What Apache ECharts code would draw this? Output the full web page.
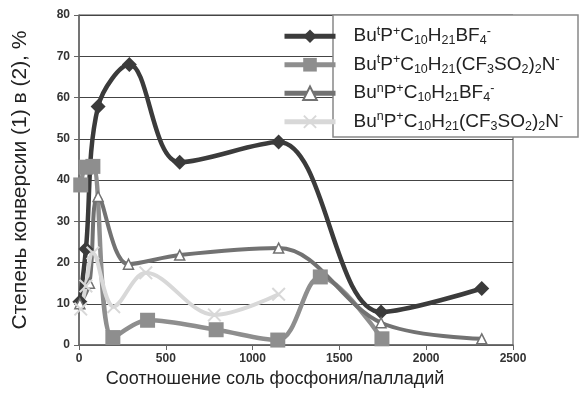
<!DOCTYPE html>
<html>
<head>
<meta charset="utf-8">
<script src="https://cdn.jsdelivr.net/npm/echarts@6/dist/echarts.min.js"></script>
<style>
  html, body { margin: 0; padding: 0; background: #fff; }
  #chart { width: 580px; height: 393px; }
</style>
</head>
<body>
<div id="chart"></div>
<script>
// data: [ratio, conversion %]
const seriesNames = ['s1', 's2', 's3', 's4']
const butBF4 = [[5, 10.5], [40, 23.3], [110, 57.8], [290, 68], [580, 44.3], [1150, 49.2], [1740, 8], [2320, 13.7]]
const butNTf2 = [[10, 38.8], [40, 43.1], [80, 43.3], [195, 1.8], [395, 6], [790, 3.7], [1145, 1.2], [1390, 16.5], [1745, 1.5]]
const bunBF4 = [[5, 10], [60, 15], [110, 36], [285, 19.6], [580, 21.8], [1150, 23.5], [1740, 5.4], [2320, 1.5]]
const bunNTf2 = [[10, 8.7], [40, 14.3], [80, 22.3], [200, 9.3], [385, 17.5], [780, 7.3], [1150, 12.3]]

// legend labels (rich text)
const legendText = {
  s1: 'Bu{sup|t}P{sup|+}C{sub|10}H{sub|21}BF{sub|4}{sup|-}',
  s2: 'Bu{sup|t}P{sup|+}C{sub|10}H{sub|21}(CF{sub|3}SO{sub|2}){sub|2}N{sup|-}',
  s3: 'Bu{sup|n}P{sup|+}C{sub|10}H{sub|21}BF{sub|4}{sup|-}',
  s4: 'Bu{sup|n}P{sup|+}C{sub|10}H{sub|21}(CF{sub|3}SO{sub|2}){sub|2}N{sup|-}'
}

const crossPath = 'path://M0,1 L1,0 L5,4 L9,0 L10,1 L6,5 L10,9 L9,10 L5,6 L1,10 L0,9 L4,5 Z'

const chart = echarts.init(document.getElementById('chart'))

const plain = function (v) { return String(v) }

const option = {
  animation: false,
  textStyle: { fontFamily: 'Liberation Sans, Arial, sans-serif' },
  grid: { left: 79, right: 67, top: 15, bottom: 46, show: true, borderColor: '#444', borderWidth: 1 },
  graphic: [{
    type: 'rect',
    z: 3,
    shape: { x: 333, y: 15, width: 245, height: 122 },
    style: { fill: '#fff', stroke: '#888', lineWidth: 1.5 }
  }],
  legend: {
    z: 10,
    orient: 'vertical',
    left: 277,
    top: 20,
    itemWidth: 51,
    itemHeight: 17,
    itemGap: 6,
    data: seriesNames,
    lineStyle: { width: 5 },
    formatter: function (name) {
      return '{gap| }' + legendText[name]
    },
    textStyle: {
      color: '#222',
      fontSize: 19,
      lineHeight: 22.5,
      rich: {
        gap: { width: 13 },
        sup: { fontSize: 12.5, lineHeight: 12, verticalAlign: 'top', color: '#222' },
        sub: { fontSize: 12.5, lineHeight: 12, verticalAlign: 'bottom', color: '#222' }
      }
    }
  },
  xAxis: {
    type: 'value',
    min: 0,
    max: 2500,
    interval: 500,
    name: 'Соотношение соль фосфония/палладий',
    nameLocation: 'middle',
    nameGap: 25,
    nameTextStyle: { fontSize: 18, color: '#222', padding: [0, 42, 0, 0] },
    axisLine: { show: true, lineStyle: { color: '#666', width: 1.5 } },
    axisTick: { show: true, length: 5, lineStyle: { color: '#666' } },
    axisLabel: { fontSize: 12, fontWeight: 'bold', color: '#333', margin: 8, formatter: plain },
    splitLine: { show: false }
  },
  yAxis: {
    type: 'value',
    min: 0,
    max: 80,
    interval: 10,
    name: 'Степень конверсии (1) в (2), %',
    nameLocation: 'middle',
    nameGap: 48,
    nameTextStyle: { fontSize: 21, color: '#222' },
    axisLine: { show: true, lineStyle: { color: '#666', width: 1.5 } },
    axisTick: { show: true, length: 5, lineStyle: { color: '#666' } },
    axisLabel: { fontSize: 12, fontWeight: 'bold', color: '#333', margin: 9, formatter: plain },
    splitLine: { show: true, lineStyle: { color: '#444', width: 1 } }
  },
  series: [
    {
      name: 's1',
      type: 'line',
      smooth: 0.35,
      data: butBF4,
      symbol: 'diamond',
      symbolSize: 15,
      lineStyle: { color: '#3b3b3b', width: 4.5 },
      itemStyle: { color: '#3b3b3b' },
      z: 2
    },
    {
      name: 's2',
      type: 'line',
      smooth: 0.35,
      data: butNTf2,
      symbol: 'rect',
      symbolSize: 15,
      lineStyle: { color: '#8e8e8e', width: 4.5 },
      itemStyle: { color: '#8e8e8e' },
      z: 2
    },
    {
      name: 's3',
      type: 'line',
      smooth: 0.35,
      data: bunBF4,
      symbol: 'triangle',
      symbolSize: 10,
      lineStyle: { color: '#727272', width: 4 },
      itemStyle: { color: '#fff', borderColor: '#727272', borderWidth: 1.5 },
      z: 2
    },
    {
      name: 's4',
      type: 'line',
      smooth: 0.35,
      data: bunNTf2,
      symbol: crossPath,
      symbolSize: 14,
      lineStyle: { color: '#d8d8d8', width: 4 },
      itemStyle: { color: '#d8d8d8' },
      z: 2
    }
  ]
}

chart.setOption(option)
window.addEventListener('resize', function () {
  chart.resize()
})
</script>
</body>
</html>
